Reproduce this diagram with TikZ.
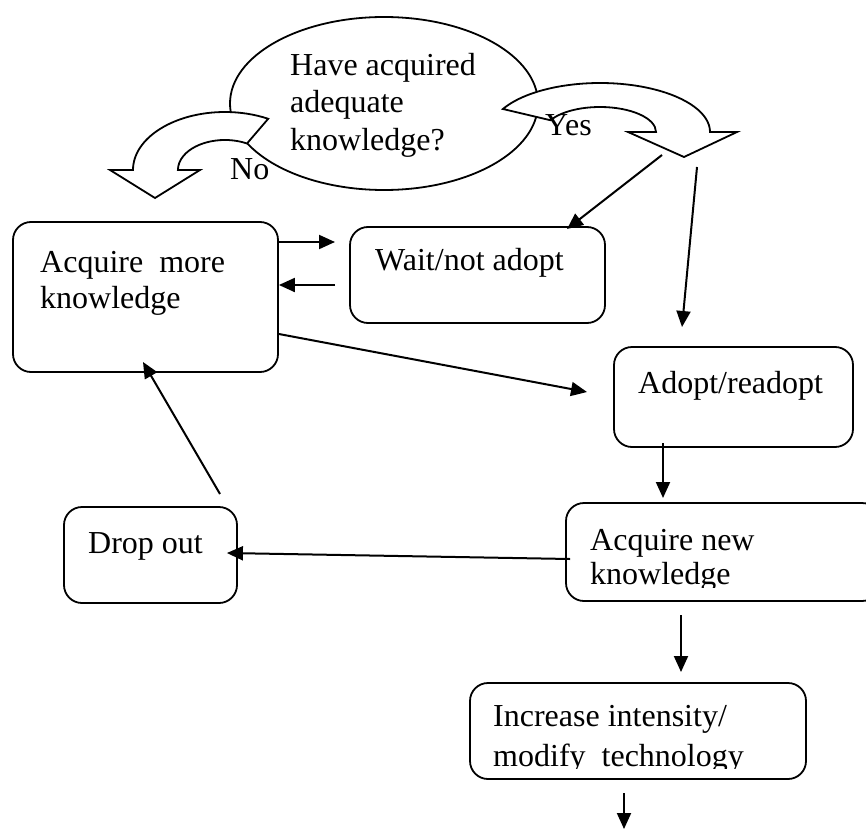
\documentclass[tikz,border=0pt]{standalone}
\usepackage{fontspec}
\setmainfont{Liberation Serif}
\usetikzlibrary{arrows.meta,shapes.geometric}
\begin{document}
\begin{tikzpicture}[x=1pt,y=1pt,
  box/.style={draw, line width=1.8pt, rounded corners=18pt, inner sep=0pt},
  lbl/.style={font=\fontsize{32}{37}\selectfont, inner sep=0pt, anchor=base west},
  arr/.style={line width=2pt, -{Triangle[length=16pt,width=14pt]}},
  blockarrow/.style={draw, line width=1.8pt, fill=white, line join=miter}]
\useasboundingbox (0,0) rectangle (866,-829);

% decision ellipse
\node[draw, ellipse, line width=1.8pt, fill=white, inner sep=0pt,
      minimum width=308pt, minimum height=173pt] (q) at (384,-103.5) {};
\node[lbl] (q1) at (290,-76) {Have acquired};
\node[lbl] (q2) at (290,-113) {adequate};
\node[lbl] (q3) at (290,-150) {knowledge?};

% curved block arrow "No"
\draw[blockarrow] (133,-170) arc[start angle=180,end angle=62,x radius=92,y radius=58]
  -- (247,-143.5) arc[start angle=62,end angle=180,x radius=47,y radius=30]
  -- (200,-170) -- (155,-198) -- (110,-170) -- cycle;
% curved block arrow "Yes"
\draw[blockarrow] (502.9,-109) arc[start angle=152,end angle=0,x radius=110,y radius=49]
  -- (737,-132) -- (684,-157) -- (628,-132) -- (656,-132)
  arc[start angle=0,end angle=152,x radius=56,y radius=25] -- cycle;
\node[lbl] (yes) at (545,-136) {Yes};
\node[lbl] (no) at (230,-179) {No};

% boxes
\node[box, minimum width=265pt, minimum height=150pt] (am) at (145.5,-297) {};
\node[lbl] (am1) at (40,-272) {Acquire\ \ more};
\node[lbl] (am2) at (40,-308) {knowledge};

\node[box, minimum width=255pt, minimum height=96pt] (wait) at (477.5,-275) {};
\node[lbl] (wait1) at (375,-270) {Wait/not adopt};

\node[box, minimum width=239pt, minimum height=100pt] (adopt) at (733.5,-397) {};
\node[lbl] (adopt1) at (638,-393) {Adopt/readopt};

\node[box, minimum width=314pt, minimum height=98pt] (anew) at (723,-552) {};
\node[lbl] (anew1) at (590,-550) {Acquire new};
\begin{scope}
  \clip (560,-560) rectangle (870,-587);
  \node[lbl] (anew2) at (590,-584) {knowledge};
\end{scope}

\node[box, minimum width=173pt, minimum height=96pt] (drop) at (150.5,-555) {};
\node[lbl] (drop1) at (88,-553) {Drop out};

\node[box, minimum width=336pt, minimum height=96pt] (inc) at (638,-731) {};
\node[lbl] (inc1) at (493,-726) {Increase intensity/};
\begin{scope}
  \clip (465,-740) rectangle (810,-768);
  \node[lbl] (inc2) at (493,-766) {modify\ \ technology};
\end{scope}

% connectors
\coordinate (t1) at (335,-242);
\draw[arr] (am.east |- t1) -- (t1);
\coordinate (s2) at (335,-285);
\draw[arr] (s2) -- (am.east |- s2);
\coordinate (s3) at (662,-155);
\coordinate (t3) at (567,-229);
\draw[arr] (s3) -- (t3);
\coordinate (s4) at (697,-167);
\coordinate (t4) at (682,-327);
\draw[arr] (s4) -- (t4);
\coordinate (t5) at (587,-392);
\draw[arr] ([yshift=-37pt]am.east) -- (t5);
\coordinate (s6) at (663,-443);
\coordinate (t6) at (663,-498);
\draw[arr] (s6) -- (t6);
\draw[arr] ([xshift=5pt,yshift=-7pt]anew.west) -- ([xshift=-11pt,yshift=2pt]drop.east);
\coordinate (s8) at (220,-494);
\coordinate (t8) at (143,-362);
\draw[arr] (s8) -- (t8);
\coordinate (s9) at (681,-615);
\coordinate (t9) at (681,-672);
\draw[arr] (s9) -- (t9);
\coordinate (s10) at (624,-793);
\coordinate (t10) at (624,-829);
\draw[arr] (s10) -- (t10);
\end{tikzpicture}
\end{document}
